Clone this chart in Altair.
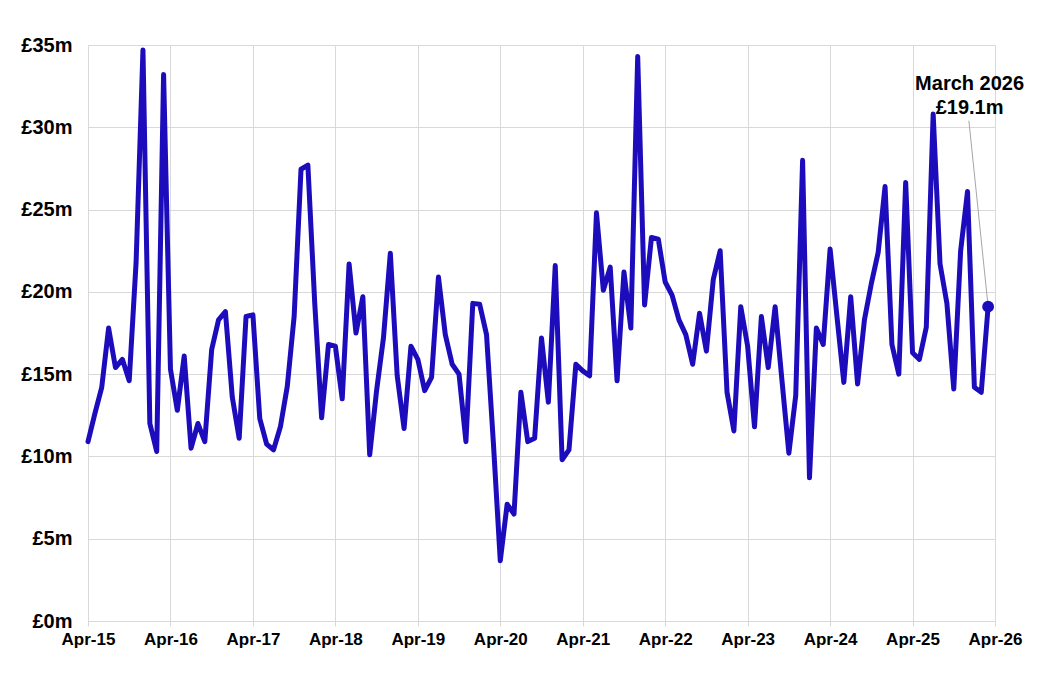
import json
import altair as alt
import pandas as pd

values = [
    10.9, 12.6, 14.2, 17.8, 15.4, 15.9, 14.6, 21.8, 34.7, 12.0, 10.3, 33.2,
    15.3, 12.8, 16.1, 10.5, 12.0, 10.9, 16.5, 18.3, 18.8, 13.6, 11.1, 18.5,
    18.6, 12.3, 10.75, 10.4, 11.8, 14.25, 18.5, 27.45, 27.7, 19.3, 12.35, 16.8,
    16.7, 13.5, 21.7, 17.5, 19.7, 10.1, 14.0, 17.2, 22.35, 14.9, 11.7, 16.7,
    15.9, 14.0, 14.8, 20.9, 17.4, 15.6, 15.0, 10.9, 19.3, 19.25, 17.4, 10.8,
    3.66, 7.1, 6.5, 13.9, 10.9, 11.1, 17.2, 13.3, 21.6, 9.8, 10.4, 15.6,
    15.2, 14.9, 24.8, 20.1, 21.5, 14.6, 21.2, 17.8, 34.3, 19.2, 23.3, 23.2,
    20.6, 19.8, 18.3, 17.4, 15.6, 18.7, 16.4, 20.75, 22.5, 13.9, 11.55, 19.1,
    16.7, 11.8, 18.5, 15.4, 19.1, 14.6, 10.2, 13.7, 28.0, 8.7, 17.8, 16.8,
    22.6, 18.5, 14.5, 19.7, 14.4, 18.3, 20.5, 22.4, 26.4, 16.8, 15.0, 26.65,
    16.3, 15.9, 17.85, 30.8, 21.7, 19.3, 14.1, 22.5, 26.1, 14.2, 13.9, 19.1,
]
tick_labels = ["Apr-15", "Apr-16", "Apr-17", "Apr-18", "Apr-19", "Apr-20",
               "Apr-21", "Apr-22", "Apr-23", "Apr-24", "Apr-25", "Apr-26"]
y_ticks = [0, 5, 10, 15, 20, 25, 30, 35]

months = pd.date_range("2015-04-01", periods=len(values), freq="MS")
df = pd.DataFrame({"idx": list(range(len(values))),
                   "month": months.strftime("%Y-%m"),
                   "value": values})
last = df.tail(1)

n_months = 12 * (len(tick_labels) - 1)
LINE = "#1c0cbc"
FONT = "Liberation Sans, Arial, sans-serif"
GRID = "#d9d9d9"

x_scale = alt.Scale(domain=[0, n_months], nice=False, zero=False)
y_scale = alt.Scale(domain=[0, 35], nice=False)

x_axis = alt.Axis(
    values=list(range(0, n_months + 1, 12)),
    labelExpr=json.dumps(tick_labels) + "[round(datum.value / 12)]",
    grid=True, gridColor=GRID, gridWidth=1,
    domain=False, ticks=True, tickSize=5, tickColor=GRID,
    labelFont=FONT, labelFontSize=17, labelFontWeight="bold",
    labelColor="black", labelPadding=5, title=None, labelFlush=False,
)
y_axis = alt.Axis(
    values=y_ticks,
    labelExpr="'£' + datum.value + 'm'",
    grid=True, gridColor=GRID, gridWidth=1,
    domain=False, ticks=False,
    labelFont=FONT, labelFontSize=20, labelFontWeight="bold",
    labelColor="black", labelPadding=16, title=None,
)

base = alt.Chart(df)

line = base.mark_line(color=LINE, strokeWidth=5, strokeJoin="round",
                      strokeCap="round").encode(
    x=alt.X("idx:Q", scale=x_scale, axis=x_axis),
    y=alt.Y("value:Q", scale=y_scale, axis=y_axis),
)

point = alt.Chart(last).mark_point(filled=True, color=LINE, size=140,
                                   opacity=1).encode(
    x=alt.X("idx:Q", scale=x_scale),
    y=alt.Y("value:Q", scale=y_scale),
)

ann_text = f"March 2026\n£{values[-1]:.1f}m"
ann = pd.DataFrame({"x": [128.3], "y": [32.6], "text": [ann_text],
                    "x1": [128.2], "y1": [30.4],
                    "x2": [len(values) - 1], "y2": [values[-1]]})

leader = alt.Chart(ann).mark_rule(color="#a6a6a6", strokeWidth=1).encode(
    x=alt.X("x1:Q", scale=x_scale),
    y=alt.Y("y1:Q", scale=y_scale),
    x2="x2:Q",
    y2="y2:Q",
)

label = alt.Chart(ann).mark_text(
    font=FONT, fontSize=20, fontWeight="bold", color="black",
    align="center", baseline="middle", lineBreak="\n", lineHeight=24,
).encode(
    x=alt.X("x:Q", scale=x_scale),
    y=alt.Y("y:Q", scale=y_scale),
    text="text:N",
)

chart = alt.layer(leader, line, point, label).properties(
    width=907, height=576,
    padding={"left": 80, "top": 37, "right": 38, "bottom": 40},
    autosize=alt.AutoSizeParams(type="none"),
).configure_view(stroke=None).configure(background="white")

chart.save("out.html", embed_options={"renderer": "svg", "actions": False})
